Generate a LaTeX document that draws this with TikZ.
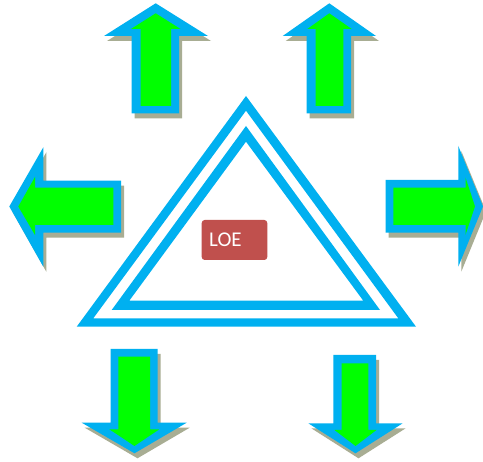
\documentclass[tikz,border=0pt]{standalone}
\usepackage{fontspec}
\setmainfont{Carlito}
\definecolor{arrblue}{RGB}{0,176,240}
\definecolor{arrgreen}{RGB}{0,255,0}
\definecolor{shadowc}{RGB}{168,173,147}
\definecolor{loered}{RGB}{192,80,77}
\tikzset{
  shadowfill/.style={fill=shadowc, shift={(3,5)}},
  bluefill/.style={fill=arrblue},
  greenfill/.style={fill=arrgreen},
  tri/.style={fill=arrblue, even odd rule},
  loebox/.style={fill=loered, rounded corners=3pt, minimum width=65.6pt, minimum height=40pt, inner sep=0pt, text=white, font=\fontsize{21}{21}\selectfont}
}
\begin{document}
\begin{tikzpicture}[x=1pt,y=-1pt]
\useasboundingbox (0,0) rectangle (483,462);
\clip (0,0) rectangle (483,462);
\fill[white] (0,0) rectangle (483,462);
% up arrow 1
\def\upA{(155.7,3.3) -- (208,36) -- (179,36) -- (179,113.3) -- (131.7,113.3) -- (131.7,36) -- (104,36) -- cycle}
\fill[shadowfill] \upA;
\fill[bluefill] \upA;
\fill[greenfill] (155.7,13.3) -- (180.5,29) -- (171,29) -- (171,106) -- (140.7,106) -- (140.7,29) -- (131,29) -- cycle;
% up arrow 2
\def\upB{(329.3,3.3) -- (376,36) -- (351,36) -- (351,113.3) -- (306.7,113.3) -- (306.7,36) -- (282.7,36) -- cycle}
\fill[shadowfill] \upB;
\fill[bluefill] \upB;
\fill[greenfill] (329.3,13.3) -- (351.7,29) -- (343.3,29) -- (343.3,106) -- (315.7,106) -- (315.7,29) -- (307.3,29) -- cycle;
% left arrow
\def\leftA{(9.3,206.5) -- (43.3,147.3) -- (43.3,180.7) -- (121,180.7) -- (121,232.7) -- (43.3,232.7) -- (43.3,266.7) -- cycle}
\fill[shadowfill] \leftA;
\fill[bluefill] \leftA;
\fill[greenfill] (18.3,206.5) -- (35,177) -- (35,187.7) -- (113.3,187.7) -- (113.3,225) -- (35,225) -- (35,235) -- cycle;
% right arrow
\def\rightA{(483,206.4) -- (458.3,146) -- (458.3,180) -- (385.7,180) -- (385.7,232.7) -- (458.3,232.7) -- (458.3,266.7) -- cycle}
\fill[shadowfill] \rightA;
\fill[bluefill] \rightA;
\fill[greenfill] (475,206.4) -- (465.5,177.5) -- (465.5,187.7) -- (393.3,187.7) -- (393.3,225) -- (465.5,225) -- (465.5,235) -- cycle;
% down arrow 1
\def\downA{(110.7,349) -- (157.7,349) -- (157.7,422.7) -- (186.7,422.7) -- (134.5,453.3) -- (81.7,422.7) -- (110.7,422.7) -- cycle}
\fill[shadowfill] \downA;
\fill[bluefill] \downA;
\fill[greenfill] (118.3,356.7) -- (150,356.7) -- (150,429.3) -- (159.3,429.3) -- (134.5,446) -- (109.3,429.3) -- (118.3,429.3) -- cycle;
% down arrow 2
\def\downB{(333.3,355) -- (376,355) -- (376,423.3) -- (402.7,423.3) -- (355.5,453.3) -- (308.3,423.3) -- (333.3,423.3) -- cycle}
\fill[shadowfill] \downB;
\fill[bluefill] \downB;
\fill[greenfill] (341.7,363.3) -- (368.3,363.3) -- (368.3,430) -- (376.5,430) -- (355.5,446) -- (334.5,430) -- (341.7,430) -- cycle;
% triangles
\fill[tri] (246,96) -- (76.7,326.7) -- (416,326.7) -- cycle (246,110.7) -- (93.3,318.3) -- (398.3,318.3) -- cycle;
\fill[tri] (246,126) -- (111.7,310) -- (380,310) -- cycle (246,141.7) -- (129.3,300.7) -- (363.3,300.7) -- cycle;
% LOE box
\node[loebox] (loe) at (234.5,240) {};
\node[anchor=west, inner sep=0pt, text=white, font=\fontsize{21}{21}\selectfont] (loetext) at ([xshift=7.5pt]loe.west) {LOE};
\end{tikzpicture}
\end{document}
